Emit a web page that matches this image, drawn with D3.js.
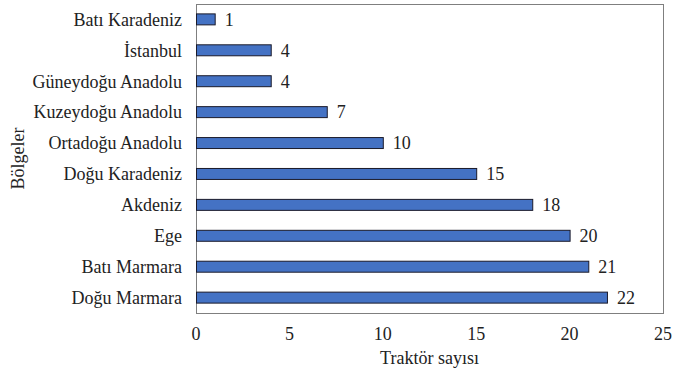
<!DOCTYPE html>
<html><head><meta charset="utf-8">
<script src="https://cdn.jsdelivr.net/npm/d3@7"></script>
</head><body style="margin:0"><svg id="c" width="673" height="376"></svg>
<script>
const categories = ["Batı Karadeniz","İstanbul","Güneydoğu Anadolu","Kuzeydoğu Anadolu","Ortadoğu Anadolu","Doğu Karadeniz","Akdeniz","Ege","Batı Marmara","Doğu Marmara"];
const values = [1,4,4,7,10,15,18,20,21,22];
const xTicks = [0,5,10,15,20,25];
const xTitle = "Traktör sayısı";
const yTitle = "Bölgeler";

const svg = d3.select("#c");
const L = 196, R = 663, T = 4, B = 313;
const FS = 18;
const FONT = "Liberation Serif";
const x = d3.scaleLinear().domain([0,25]).range([L,R]);
const y = d3.scaleBand().domain(categories).range([T,B]).paddingInner(0.645).paddingOuter(0.32);

svg.append("rect").attr("x",L+0.5).attr("y",T+0.5).attr("width",R-L).attr("height",B-T)
  .attr("fill","none").attr("stroke","#7f7f7f").attr("stroke-width",1);

svg.selectAll(".bar").data(values).join("rect").attr("class","bar")
  .attr("x",x(0)+0.5).attr("y",(d,i)=>y(categories[i]))
  .attr("width",d=>x(d)-x(0)).attr("height",y.bandwidth())
  .attr("fill","#4472c4").attr("stroke","#1a1a2a").attr("stroke-width",1);

function txt(sel){ sel.attr("font-size",FS).attr("fill","#222").attr("font-family",FONT).style("font-family",`"${FONT}"`); }

svg.selectAll(".val").data(values).join("text").attr("class","val")
  .attr("x",d=>x(d)+10).attr("y",(d,i)=>y(categories[i])+y.bandwidth()/2)
  .attr("dy","0.35em").call(txt).text(d=>d);

svg.selectAll(".cat").data(categories).join("text").attr("class","cat")
  .attr("x",L-14).attr("y",d=>y(d)+y.bandwidth()/2).attr("dy","0.35em")
  .attr("text-anchor","end").call(txt).text(d=>d);

svg.selectAll(".xt").data(xTicks).join("text").attr("class","xt")
  .attr("x",d=>x(d)).attr("y",334).attr("dy","0.35em")
  .attr("text-anchor","middle").call(txt).text(d=>d);

svg.append("text").attr("x",(L+R)/2).attr("y",358).attr("dy","0.35em")
  .attr("text-anchor","middle").call(txt).text(xTitle);
svg.append("text").attr("transform",`translate(18,${(T+B)/2}) rotate(-90)`).attr("dy","0.35em")
  .attr("text-anchor","middle").call(txt).text(yTitle);
</script></body></html>
